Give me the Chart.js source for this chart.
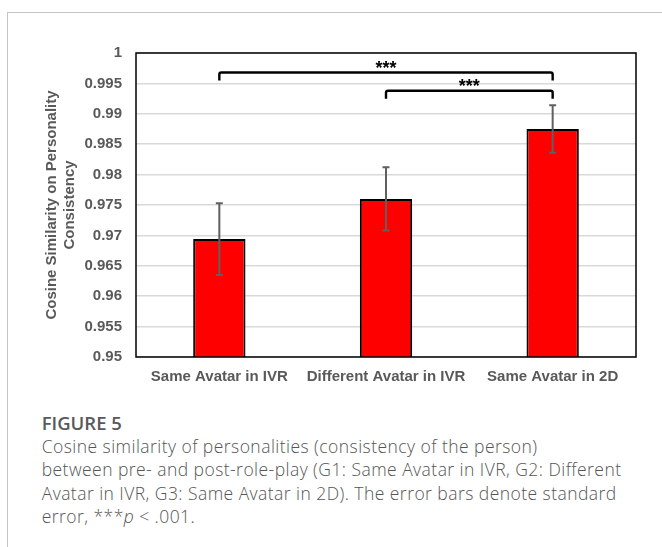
<!DOCTYPE html>
<html>
<head>
<meta charset="utf-8">
<script src="https://cdn.jsdelivr.net/npm/chart.js@4.4.1/dist/chart.umd.min.js"></script>
<style>
  html, body { margin: 0; padding: 0; background: #fff; width: 662px; height: 547px; overflow: hidden; }
  #frame { position: absolute; left: 7px; top: 12px; width: 660px; height: 540px;
           border-top: 1px solid #c4c4c4; border-left: 1px solid #c4c4c4; }
  #chart { position: absolute; left: 0; top: 0; }
  .cap { position: absolute; left: 41.7px; color: #555; font-family: "Open Sans", sans-serif; white-space: nowrap; }
  #fig { top: 411px; font-size: 18.5px; font-weight: 600; line-height: 23.6px; color: #58595b; }
  #txt { top: 434.5px; font-size: 17.5px; font-weight: 300; letter-spacing: 0.45px; line-height: 23.6px; }
</style>
</head>
<body>
<div id="frame"></div>
<canvas id="chart" width="662" height="400"></canvas>
<div class="cap" id="fig">FIGURE 5</div>
<div class="cap" id="txt">Cosine similarity of personalities (consistency of the person)<br>between pre- and post-role-play (G1: Same Avatar in IVR, G2: Different<br>Avatar in IVR, G3: Same Avatar in 2D). The error bars denote standard<br>error, ***<i>p</i> &lt; .001.</div>

<script>
// Groups and mean cosine similarity with standard error
const groups = ['Same Avatar in IVR', 'Different Avatar in IVR', 'Same Avatar in 2D'];
const meanSim = [0.9694, 0.9760, 0.9875];
const stdErr = [0.0059, 0.0052, 0.0039];

// Y axis ticks
const yTicks = [0.95, 0.955, 0.96, 0.965, 0.97, 0.975, 0.98, 0.985, 0.99, 0.995, 1];
const yTickLabels = ['0.95', '0.955', '0.96', '0.965', '0.97', '0.975', '0.98', '0.985', '0.99', '0.995', '1'];

// Significance brackets (group index pairs, bracket height, marker)
const pairFrom = [0, 1];
const pairTo = [2, 2];
const pairY = [0.9968, 0.9938];
const pairMark = ['***', '***'];

const GRAY = '#595959';
const AXIS_FONT = { family: '"Liberation Sans", Arial, sans-serif', size: 15, weight: 'bold', lineHeight: 1.2 };

// Black box around the plot area
const plotFrame = {
  id: 'plotFrame',
  afterDatasetsDraw(chart) {
    const { ctx, chartArea: a } = chart;
    ctx.save();
    ctx.strokeStyle = '#000';
    ctx.lineWidth = 1.5;
    ctx.strokeRect(a.left, a.top, a.right - a.left, a.bottom - a.top);
    ctx.restore();
  }
};

// Standard error whiskers
const errorBars = {
  id: 'errorBars',
  afterDatasetsDraw(chart) {
    const { ctx, scales: { y } } = chart;
    const meta = chart.getDatasetMeta(0);
    ctx.save();
    ctx.strokeStyle = '#606060';
    ctx.lineWidth = 2;
    meta.data.forEach((bar, i) => {
      const cx = bar.x;
      const top = y.getPixelForValue(meanSim[i] + stdErr[i]);
      const bot = y.getPixelForValue(meanSim[i] - stdErr[i]);
      ctx.beginPath();
      ctx.moveTo(cx, top); ctx.lineTo(cx, bot);
      ctx.moveTo(cx - 3.5, top); ctx.lineTo(cx + 3.5, top);
      ctx.moveTo(cx - 3.5, bot); ctx.lineTo(cx + 3.5, bot);
      ctx.stroke();
    });
    ctx.restore();
  }
};

// Significance brackets with star markers
const sigBrackets = {
  id: 'sigBrackets',
  afterDatasetsDraw(chart) {
    const { ctx, scales: { x, y } } = chart;
    ctx.save();
    ctx.strokeStyle = '#000';
    ctx.fillStyle = '#000';
    ctx.lineWidth = 2.4;
    ctx.lineJoin = 'round';
    ctx.font = 'bold 18px "Liberation Sans", Arial, sans-serif';
    ctx.textAlign = 'center';
    ctx.textBaseline = 'alphabetic';
    pairFrom.forEach((f, k) => {
      const x1 = x.getPixelForValue(f);
      const x2 = x.getPixelForValue(pairTo[k]);
      const yy = y.getPixelForValue(pairY[k]);
      const leg = 8, r = 2;
      ctx.beginPath();
      ctx.moveTo(x1, yy + leg);
      ctx.lineTo(x1, yy + r);
      ctx.quadraticCurveTo(x1, yy, x1 + r, yy);
      ctx.lineTo(x2 - r, yy);
      ctx.quadraticCurveTo(x2, yy, x2, yy + r);
      ctx.lineTo(x2, yy + leg);
      ctx.stroke();
      ctx.fillText(pairMark[k], (x1 + x2) / 2, yy + 1.5);
    });
    ctx.restore();
  }
};

new Chart(document.getElementById('chart'), {
  type: 'bar',
  data: {
    labels: groups,
    datasets: [{
      data: meanSim,
      backgroundColor: '#ff0000',
      borderColor: '#000',
      borderWidth: 2,
      borderSkipped: false,
      categoryPercentage: 1,
      barPercentage: 0.314
    }]
  },
  options: {
    responsive: false,
    animation: false,
    devicePixelRatio: 1,
    layout: { padding: { top: 53, right: 26, left: 0, bottom: 0 } },
    plugins: { legend: { display: false }, tooltip: { enabled: false } },
    scales: {
      x: {
        grid: { display: false, drawTicks: false },
        border: { display: false },
        ticks: { color: GRAY, font: AXIS_FONT, padding: 11, maxRotation: 0, autoSkip: false },
        afterFit(s) { s.height = 43; }
      },
      y: {
        min: 0.95,
        max: 1,
        afterBuildTicks(s) { s.ticks = yTicks.map(v => ({ value: v })); },
        ticks: { color: GRAY, font: AXIS_FONT, padding: 14, callback: (v, i) => yTickLabels[i] },
        grid: { color: '#d9d9d9', lineWidth: 1.5, drawTicks: false },
        border: { display: false },
        title: {
          display: true,
          text: ['Cosine Similarity on Personality', 'Consistency'],
          color: GRAY,
          font: AXIS_FONT,
          padding: { top: 43, bottom: 0 }
        },
        afterFit(s) { s.width = 136; }
      }
    }
  },
  plugins: [plotFrame, errorBars, sigBrackets]
});
</script>
</body>
</html>
